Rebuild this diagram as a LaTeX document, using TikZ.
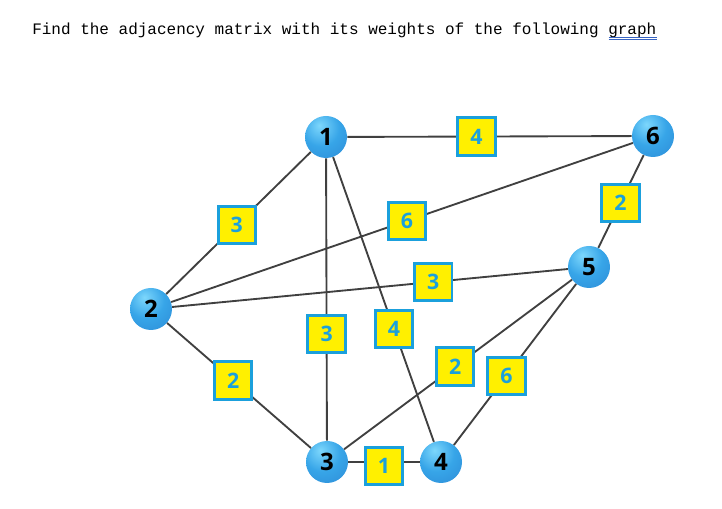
\documentclass[tikz,border=0pt]{standalone}
\usepackage{fontspec}
\setmainfont{Open Sans}
\newfontfamily\titlefont{Liberation Mono}
\definecolor{wtblue}{RGB}{27,160,220}
\definecolor{wtyellow}{RGB}{255,240,0}
\definecolor{edgegray}{RGB}{64,64,64}
\definecolor{spellblue}{RGB}{55,100,195}
\definecolor{orbhi}{RGB}{125,215,252}
\definecolor{orbmid}{RGB}{55,165,232}
\definecolor{orbmd}{RGB}{45,140,215}
\definecolor{orbdk}{RGB}{25,95,170}
\pgfdeclareradialshading{orb}{\pgfpoint{-8bp}{14bp}}{color(0bp)=(orbhi); color(22bp)=(orbmid); color(45bp)=(orbmd); color(64bp)=(orbdk); color(100bp)=(orbdk)}
\begin{document}
\begin{tikzpicture}[x=0.75pt,y=-0.75pt,
	vertex/.style={circle,shading=orb,minimum size=31.5pt,inner sep=0pt,font=\bfseries\fontsize{18}{18}\selectfont},
	wt/.style={draw=wtblue,line width=2.2pt,fill=wtyellow,minimum size=28pt,inner sep=0pt,text=wtblue,font=\bfseries\fontsize{16}{16}\selectfont},
	edge/.style={draw=edgegray,line width=1.4pt},
	spell/.style={draw=spellblue,line width=0.6pt}]
	\useasboundingbox (0,0) rectangle (722,509);
	% title
	\node[anchor=base west,inner sep=0pt,font=\titlefont\fontsize{12}{12}\selectfont] (title) at (32,35) {Find the adjacency matrix with its weights of the following graph};
	\draw[spell] ([xshift=-36pt,yshift=-1.9pt]title.base east) -- ([yshift=-1.9pt]title.base east);
	\draw[spell] ([xshift=-36pt,yshift=-3.4pt]title.base east) -- ([yshift=-3.4pt]title.base east);
	% vertices
	\node[vertex] (n1) at (326,137) {1};
	\node[vertex] (n2) at (151,309) {2};
	\node[vertex] (n3) at (327,462) {3};
	\node[vertex] (n4) at (441,462) {4};
	\node[vertex] (n5) at (589,267) {5};
	\node[vertex] (n6) at (653,136) {6};
	% weighted edges
	\draw[edge] (n1) -- node[wt,pos=0.454] {4} (n6);
	\draw[edge] (n6) -- node[wt,pos=0.514] {2} (n5);
	\draw[edge] (n1) -- node[wt,pos=0.512] {3} (n2);
	\draw[edge] (n2) -- node[wt,pos=0.511] {6} (n6);
	\draw[edge] (n2) -- node[wt,pos=0.66] {3} (n5);
	\draw[edge] (n1) -- node[wt,pos=0.622] {3} (n3);
	\draw[edge] (n1) -- node[wt,pos=0.603] {4} (n4);
	\draw[edge] (n2) -- node[wt,pos=0.46] {2} (n3);
	\draw[edge] (n3) -- node[wt,pos=0.488] {2} (n5);
	\draw[edge] (n5) -- node[wt,pos=0.57] {6} (n4);
	\draw[edge] (n3) -- node[wt,pos=0.5,yshift=-3pt] {1} (n4);
\end{tikzpicture}
\end{document}
